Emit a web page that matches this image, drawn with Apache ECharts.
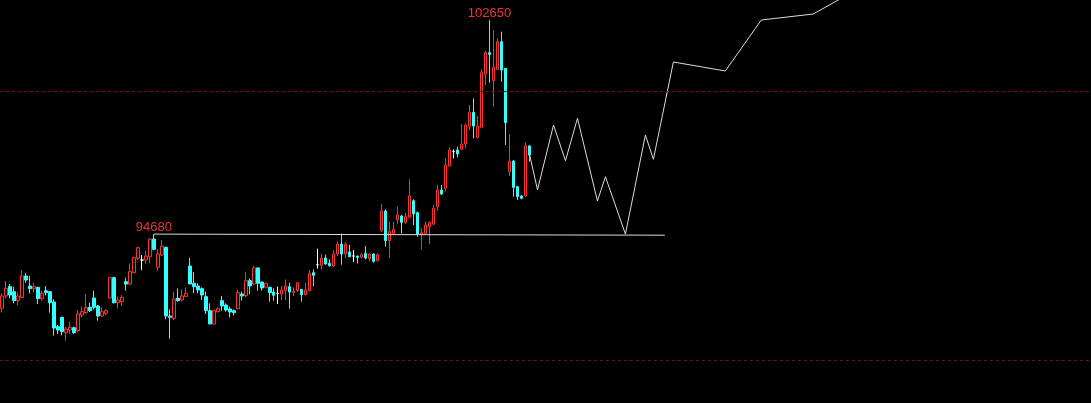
<!DOCTYPE html>
<html>
<head>
<meta charset="utf-8">
<script src="https://cdn.jsdelivr.net/npm/echarts@6/dist/echarts.min.js"></script>
<style>
html,body{margin:0;padding:0;background:#000;}
#chart{width:1091px;height:403px;}
</style>
</head>
<body>
<div id="chart"></div>
<script>
// Candle values [open, close, low, high]
const opens = [91921,92379,92726,92540,92206,92330,93122,92751,92652,92701,92280,92577,92540,92156,91239,91586,91016,91115,91202,91091,91673,91760,91958,92305,92007,91636,91735,92305,93061,92131,92168,92912,92825,93246,93779,93717,93717,93841,94498,93445,93903,94188,91636,91549,92292,92231,92355,93495,92851,92751,92652,92355,91835,91339,91797,92206,92045,91897,91835,91909,92454,92392,92950,92826,93421,92900,92702,92702,92528,92479,92454,92578,92727,92504,92578,92628,92429,92578,93247,93544,93520,93792,93594,93495,93941,94313,93941,94015,93867,93867,93817,93966,93767,93941,93693,94808,95539,94436,94709,95205,95353,95118,95304,95923,95477,94684,94709,94957,95056,95700,96320,96382,97212,97745,97807,97832,98030,98699,99207,98278,98650,100632,101425,100384,100806,101834,100843,97002,97398,96444,96097,96097,97956];
const closes = [92379,92664,92416,92206,92379,93122,92974,92652,92726,92280,92478,92503,92131,91190,91115,91053,91152,91214,91016,91710,91797,91958,91834,91958,91636,91797,91834,93061,92131,92230,92330,92825,93284,93804,94176,93717,93866,94498,94114,93940,94238,91636,91586,92268,92206,92380,92479,92826,92727,92603,92417,91835,91339,91835,91909,92008,91859,91785,91760,92504,92380,92950,92751,93421,92851,92677,92851,92504,92405,92479,92603,92751,92528,92566,92875,92429,92603,93222,93148,93544,93792,93569,93507,93941,94313,93941,94313,93842,93867,93817,93916,93792,93941,93668,93916,95539,94436,94771,94858,95390,95118,95328,96097,95428,94684,94734,95019,95118,95638,96320,96172,97250,97807,97745,97659,98030,98736,99207,98699,98699,100682,101425,101363,100880,101834,100781,98823,97398,96419,96073,96011,97956,97621];
const lows = [91760,92292,92292,92106,92045,92292,92875,92478,92503,92082,92206,92404,91760,90905,90967,90917,90719,90967,90967,91053,91586,91710,91784,91883,91462,91611,91673,92280,92106,91908,92007,92577,92788,93222,93717,93346,93569,93593,94089,93321,93866,91512,90793,91487,92168,92169,92355,92826,92479,92479,92231,91711,91339,91302,91760,91835,91797,91587,91661,91884,92206,92330,92454,92789,92578,92578,92665,92169,92206,92082,92231,92231,91909,92380,92541,92169,92405,92553,92751,93396,93371,93544,93470,93470,93867,93544,93792,93817,93644,93594,93780,93743,93668,93619,93656,94771,94213,93780,94684,95056,94709,95056,95266,95019,94585,94114,94684,94312,95019,95550,96135,96258,97188,97497,97535,97832,97869,98551,98241,98241,98613,100223,100310,99418,100781,100347,97993,96840,96073,95949,95973,96073,97374];
const highs = [92478,92937,92825,92726,92503,93346,93222,93122,92875,92726,92577,92751,92540,92255,91301,91611,91239,91425,91239,91834,91983,92453,92131,92577,92045,91958,91883,93073,93098,92354,92416,93061,93593,93841,94213,93903,94064,94523,94680,94114,94461,94213,91883,92540,92664,92628,92702,93792,93272,92851,92702,92541,92107,91859,91959,92380,92107,91983,91884,92603,92541,93272,93036,93495,93445,92913,92875,92727,92665,92727,92751,92999,92875,92702,92900,92628,92875,93346,93371,94139,93941,93916,93743,94090,94412,94700,94387,94275,94090,93867,93966,94238,93990,93966,93966,95799,95601,95143,95143,95700,95390,95477,96716,95973,95514,94895,95143,95143,95762,96505,96506,97497,97906,97832,97931,98774,98798,99480,99728,99071,100806,101499,102650,102268,101958,102206,100843,98402,97435,96469,96135,98080,97993];

// Projection path (bar index, price)
const projIndex = [132, 134, 138, 141, 144, 149, 151, 156, 161, 163, 168, 181, 190, 203, 215];
const projPrice = [97650, 96320, 98736, 97409, 98985, 95911, 96814, 94680, 98364, 97461, 101078, 100744, 102639, 102862, 103862];

// Horizontal level line (bar index, price)
const levelIndex = [38, 165.85];
const levelPrice = [94680, 94640];

// Dashed reference levels
const refLevels = [100000, 90000];

// High markers
const highMarks = [[38, 94680], [122, 102650]];

const slotCount = 273;
const categories = Array.from({length: slotCount}, (_, i) => String(i));

const candleData = opens.map((o, i) => [o, closes[i], lows[i], highs[i]]);
const projData = projIndex.map((x, i) => [x, projPrice[i]]);
const levelData = levelIndex.map((x, i) => [x, levelPrice[i]]);

const chart = echarts.init(document.getElementById('chart'), null, {renderer: 'canvas'});
chart.setOption({
  backgroundColor: '#000000',
  animation: false,
  grid: {left: -0.7, right: -0.3, top: 0, bottom: 0, containLabel: false},
  xAxis: [
    {type: 'category', data: categories, boundaryGap: true, show: false},
    {type: 'value', min: -0.5, max: slotCount - 0.5, show: false}
  ],
  yAxis: {type: 'value', min: 88402, max: 103383, show: false, splitLine: {show: false}},
  series: [
    {
      type: 'candlestick',
      xAxisIndex: 0,
      data: candleData,
      barWidth: 3,
      itemStyle: {
        color: '#000000',
        color0: '#33ffff',
        borderColor: '#ff3232',
        borderColor0: '#33ffff',
        borderColorDoji: '#ffffff',
        borderWidth: 1
      },
      markLine: {
        silent: true,
        symbol: 'none',
        label: {show: false},
        lineStyle: {color: '#6a1414', type: [3, 3], width: 1},
        data: refLevels.map(v => ({yAxis: v}))
      },
      markPoint: {
        silent: true,
        symbol: 'circle',
        symbolSize: 0,
        label: {
          show: true,
          position: 'top',
          distance: 0,
          color: '#ee3333',
          fontSize: 13,
          fontFamily: 'Liberation Sans, Arial, sans-serif',
          formatter: p => String(p.value)
        },
        data: highMarks.map(m => ({coord: [String(m[0]), m[1]], value: m[1]}))
      }
    },
    {
      type: 'line',
      xAxisIndex: 1,
      data: levelData,
      symbol: 'none',
      silent: true,
      lineStyle: {color: '#dcdcdc', width: 1}
    },
    {
      type: 'line',
      xAxisIndex: 1,
      data: projData,
      symbol: 'none',
      silent: true,
      lineStyle: {color: '#dcdcdc', width: 1}
    }
  ]
});
</script>
</body>
</html>
